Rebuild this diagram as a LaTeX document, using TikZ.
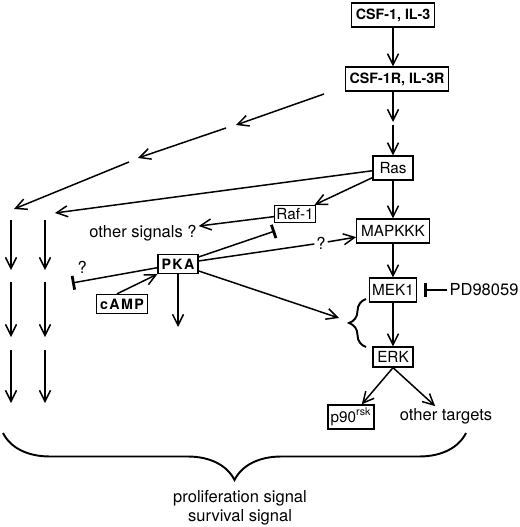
\documentclass[tikz,border=0pt]{standalone}
\usepackage{fontspec}
\setmainfont{TeX Gyre Heros}
\usetikzlibrary{positioning, arrows.meta, decorations.pathreplacing}

\begin{document}
\begin{tikzpicture}[x=0.02cm, y=-0.02cm,
  >={Straight Barb[length=2.2mm,width=2.2mm]},
  box/.style={draw, line width=0.75pt, inner xsep=2.5pt, inner ysep=0pt,
    minimum height=0.48cm, font=\fontsize{8.7}{10}\selectfont},
  bbox/.style={box, font=\fontsize{8.1}{10}\selectfont\bfseries},
  txt/.style={inner sep=1pt, font=\fontsize{9.4}{11}\selectfont},
  ar/.style={->, line width=0.85pt},
  inh/.style={-{Bar[width=2.8mm,line width=1.6pt]}, line width=0.85pt},
  brc/.style={decorate, line width=1.1pt}]
  \useasboundingbox (0,0) rectangle (520,527);

  \node[bbox] (csf) at (393,15) {CSF-1, IL-3};
  \node[bbox] (rec) at (397,79) {CSF-1R, IL-3R};
  \node[box, minimum width=0.8cm] (ras) at (393,168) {Ras};
  \node[box, minimum height=0.34cm, inner xsep=1pt] (raf) at (295,214) {Raf-1};
  \node[box] (mk3) at (393,231) {MAPKKK};
  \node[box, inner xsep=1.5pt] (mek) at (393,290) {MEK1};
  \node[box, minimum height=0.4cm] (erk) at (393,357) {ERK};
  \node[box, inner xsep=1.5pt] (p90) at (351,417) {p90\textsuperscript{rsk}};
  \node[txt] (tgt) at (446,416) {other targets};
  \node[txt] (pd) at (484,290) {PD98059};
  \node[txt] (oth) at (143,233) {other signals ?};
  \node[bbox, minimum height=0.38cm, inner xsep=2pt] (pka) at (178,264)
    {\addfontfeature{LetterSpace=10}PKA};
  \node[bbox, minimum height=0.38cm, inner xsep=2pt] (camp) at (122,304)
    {\addfontfeature{LetterSpace=10}cAMP};
  \node[txt] (q1) at (321,243) {?};
  \node[txt, align=center] (sig) at (240,508) {proliferation signal\\survival signal};

  % main cascade
  \coordinate (r1) at (393,122); \coordinate (r2) at (393,125);
  \draw[ar] (csf.south) -- (csf.south |- rec.north);
  \draw[ar] (csf.south |- rec.south) -- (r1); \draw[ar] (r2) -- (ras);
  \draw[ar] (ras) -- (mk3);
  \draw[ar] (mk3) -- (mek);
  \draw[ar] (mek) -- (erk);
  \draw[inh, shorten >=4pt] (pd) -- (mek);
  \draw[ar] (erk.south) -- (p90);
  \draw[ar] (erk.south) -- (tgt);
  \draw[brc, decoration={brace, amplitude=0.34cm}] (366,347) -- (366,299);
  \coordinate (bk) at (339,318);

  % receptor to the left columns
  \coordinate (l1a) at (324,94);  \coordinate (l1b) at (236,125);
  \coordinate (l2a) at (226,128); \coordinate (l2b) at (138,158);
  \coordinate (l3a) at (129,162); \coordinate (l3b) at (14,209);
  \coordinate (l4) at (55,213);
  \draw[ar] (l1a) -- (l1b); \draw[ar] (l2a) -- (l2b);
  \draw[ar] (l3a) -- (l3b);
  \draw[ar] (ras) -- (l4);
  \draw[ar] (ras) -- (raf);
  \draw[ar] (raf) -- (oth);

  \foreach \x/\n in {11/a, 45/b} {
    \foreach \ya/\yb [count=\i] in {220/270, 282/337, 350/403} {
      \coordinate (\n\i s) at (\x,\ya); \coordinate (\n\i e) at (\x,\yb);
      \draw[ar] (\n\i s) -- (\n\i e);
    }
  }

  % PKA
  \coordinate (rb) at (275,231); \coordinate (lb) at (72,283);
  \coordinate (pkd) at (178,327);
  \draw[inh] (pka) -- (rb);
  \draw[line width=0.85pt] (pka) -- (q1); \draw[ar] (q1) -- (mk3);
  \draw[ar] (pka) -- (bk);
  \draw[ar] (pka) -- (pkd);
  \draw[inh] (pka) -- node[txt, pos=0.88, above=3pt] {?} (lb);
  \draw[ar] ([xshift=-1mm]camp.north) -- (pka.south west);

  % all signals
  \draw[brc, decoration={brace, amplitude=0.94cm}] (466,433) -- (3,433);
\end{tikzpicture}
\end{document}
